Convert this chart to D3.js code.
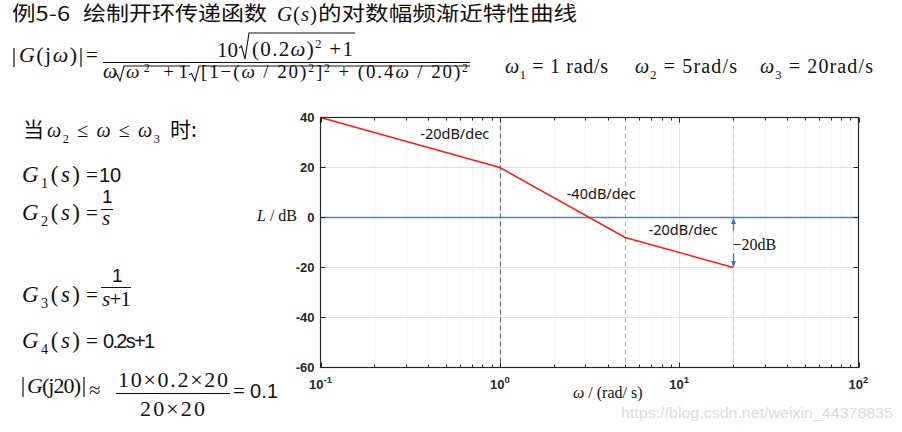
<!DOCTYPE html>
<html><head><meta charset="utf-8">
<script src="https://cdn.jsdelivr.net/npm/d3@7"></script>
<style>body{margin:0;background:#fff}svg{display:block}</style>
</head><body><svg id="c" width="902" height="432"></svg>
<script>
// ---- data ----
const decadeExps = [-1, 0, 1, 2];
const yTicks = [-60, -40, -20, 0, 20, 40];
const cornerFreqs = [1, 5, 20];
const asymFreq = [0.1, 1, 5, 20];
const asymDb = [40, 20, -8, -20];
const slopeText = ["-20dB/dec", "-40dB/dec", "-20dB/dec"];
const slopeAtFreq = [0.36, 2.36, 6.75];
const slopeAtDb = [31.4, 7.4, -7.1];
const gainFreq = 20, gainDb = -20, gainText = "\u221220dB";
const watermark = "https://blog.csdn.net/weixin_44378835";

const svg = d3.select("#c");
const SERIF = "'Liberation Serif','Times New Roman',serif";
const SANS = "'Liberation Sans',Arial,sans-serif";
const CJK = "'Noto Sans CJK SC','Noto Sans',sans-serif";
const INK = "#111";

// ---- chart ----
const x = d3.scaleLog().domain([0.1, 100]).range([320.5, 858.5]);
const y = d3.scaleLinear().domain([-60, 40]).range([367.5, 117.5]);
const [x0, x1] = x.range(), [yb, yt] = y.range();
const ch = svg.append("g");

const minors = [];
decadeExps.slice(0, -1).forEach(e => { for (let m = 2; m <= 9; m++) minors.push(m * Math.pow(10, e)); });
const majors = decadeExps.map(e => Math.pow(10, e));

ch.selectAll(".mg").data(minors).join("line")
  .attr("x1", d => Math.round(x(d)) + 0.5).attr("x2", d => Math.round(x(d)) + 0.5)
  .attr("y1", yt).attr("y2", yb).attr("stroke", "#e4e4e4").attr("stroke-dasharray", "1,2");
ch.selectAll(".gx").data(majors.slice(1, -1)).join("line")
  .attr("x1", d => Math.round(x(d)) + 0.5).attr("x2", d => Math.round(x(d)) + 0.5)
  .attr("y1", yt).attr("y2", yb).attr("stroke", "#e2e2e2");
ch.selectAll(".gy").data(yTicks.slice(1, -1)).join("line")
  .attr("x1", x0).attr("x2", x1).attr("y1", d => y(d)).attr("y2", d => y(d)).attr("stroke", "#e2e2e2");

const dashCol = ["#666", "#b0b0b0", "#cccccc"];
ch.selectAll(".cd").data(cornerFreqs).join("line")
  .attr("x1", d => Math.round(x(d)) + 0.5).attr("x2", d => Math.round(x(d)) + 0.5)
  .attr("y1", yt).attr("y2", yb).attr("stroke", (d, i) => dashCol[i]).attr("stroke-width", 1.1)
  .attr("stroke-dasharray", "5,3");

ch.append("line").attr("x1", x0).attr("x2", x1).attr("y1", y(0)).attr("y2", y(0))
  .attr("stroke", "#3f87c9").attr("stroke-width", 1.5);

ch.append("path").datum(asymFreq.map((f, i) => [f, asymDb[i]]))
  .attr("d", d3.line().x(d => x(d[0])).y(d => y(d[1])))
  .attr("fill", "none").attr("stroke", "#ff1a1a").attr("stroke-width", 1.5);

ch.append("rect").attr("x", x0).attr("y", yt).attr("width", x1 - x0).attr("height", yb - yt)
  .attr("fill", "none").attr("stroke", "#262626").attr("stroke-width", 1.2);

const tk = ch.append("g").attr("stroke", "#262626").attr("stroke-width", 1);
minors.forEach(v => {
  const px = Math.round(x(v)) + 0.5;
  tk.append("line").attr("x1", px).attr("x2", px).attr("y1", yb).attr("y2", yb - 3);
  tk.append("line").attr("x1", px).attr("x2", px).attr("y1", yt).attr("y2", yt + 3);
});
majors.forEach(v => {
  const px = Math.round(x(v)) + 0.5;
  tk.append("line").attr("x1", px).attr("x2", px).attr("y1", yb).attr("y2", yb - 5);
  tk.append("line").attr("x1", px).attr("x2", px).attr("y1", yt).attr("y2", yt + 5);
});
yTicks.forEach(v => {
  tk.append("line").attr("x1", x0).attr("x2", x0 + 5).attr("y1", y(v)).attr("y2", y(v));
  tk.append("line").attr("x1", x1).attr("x2", x1 - 5).attr("y1", y(v)).attr("y2", y(v));
});

ch.selectAll(".yl").data(yTicks).join("text")
  .attr("x", x0 - 6).attr("y", d => y(d) + 4.5).attr("text-anchor", "end")
  .attr("font-family", SANS).attr("font-weight", "bold").attr("font-size", 13).attr("fill", "#262626")
  .text(d => d);
const xl = ch.selectAll(".xl").data(decadeExps).join("text")
  .attr("x", d => x(Math.pow(10, d))).attr("y", 389).attr("text-anchor", "middle")
  .attr("font-family", SANS).attr("font-weight", "bold").attr("font-size", 13).attr("fill", "#262626");
xl.append("tspan").text("10");
xl.append("tspan").attr("dy", -6).attr("font-size", 9.5).text(d => d);

const ylab = ch.append("text").attr("x", 257).attr("y", 221).attr("font-family", SERIF).attr("font-size", 16).attr("fill", INK);
ylab.append("tspan").attr("font-style", "italic").text("L");
ylab.append("tspan").text(" / dB");
const xlab = ch.append("text").attr("x", 573).attr("y", 398).attr("font-family", SERIF).attr("font-size", 16).attr("fill", INK);
xlab.append("tspan").attr("font-style", "italic").text("\u03c9");
xlab.append("tspan").text(" / (rad/ s)");

ch.selectAll(".sl").data(slopeText).join("text")
  .attr("x", (d, i) => x(slopeAtFreq[i])).attr("y", (d, i) => y(slopeAtDb[i]))
  .attr("font-family", "'Noto Sans','Open Sans',sans-serif").attr("font-size", 14.5).attr("fill", "#111")
  .text(d => d);

const defs = svg.append("defs");
defs.append("marker").attr("id", "ah").attr("viewBox", "0 0 10 10").attr("refX", 9).attr("refY", 5)
  .attr("markerWidth", 5).attr("markerHeight", 6).attr("orient", "auto-start-reverse")
  .append("path").attr("d", "M0,1 L10,5 L0,9 Z").attr("fill", "#3a72c8");
const gx = Math.round(x(gainFreq)) + 0.5;
ch.append("line").attr("x1", gx).attr("x2", gx).attr("y1", y(0) + 13).attr("y2", y(0) + 1)
  .attr("stroke", "#3a72c8").attr("stroke-width", 1.3).attr("marker-end", "url(#ah)");
ch.append("line").attr("x1", gx).attr("x2", gx).attr("y1", y(gainDb) - 14).attr("y2", y(gainDb) - 1)
  .attr("stroke", "#3a72c8").attr("stroke-width", 1.3).attr("marker-end", "url(#ah)");
ch.append("text").attr("x", gx - 1).attr("y", (y(0) + y(gainDb)) / 2 + 7).attr("font-family", SERIF)
  .attr("font-size", 16).attr("fill", INK).text(gainText);

svg.append("text").attr("x", 621).attr("y", 418).attr("font-family", SANS).attr("font-size", 15)
  .attr("fill", "#dadada").attr("textLength", 272).attr("lengthAdjust", "spacingAndGlyphs").text(watermark);

// ---- math text helpers ----
const tg = svg.append("g").attr("fill", INK);
function mt(xp, yp, parts, size, len, adj, supRaise) {
  const t = tg.append("text").attr("x", xp).attr("y", yp).attr("font-size", size).attr("font-family", SERIF);
  if (len) t.attr("textLength", len).attr("lengthAdjust", adj || "spacing");
  let off = 0;
  parts.forEach(p => {
    const [s, k] = p;
    const sp = t.append("tspan").text(s);
    let target = 0;
    if (k === "sub") { target = size * 0.28; sp.attr("font-size", size * 0.62); }
    else if (k === "sup") { target = -size * (supRaise || 0.4); sp.attr("font-size", size * 0.62); }
    if (target !== off) { sp.attr("dy", target - off); off = target; }
    if (k === "i") sp.attr("font-style", "italic");
    if (k === "sans") sp.attr("font-family", SANS);
    if (k === "cjk") sp.attr("font-family", CJK);
  });
  return t;
}
function hline(a, b, yy, w) {
  tg.append("line").attr("x1", a).attr("x2", b).attr("y1", yy).attr("y2", yy).attr("stroke", INK).attr("stroke-width", w || 1);
}
function vline(xx, a, b) {
  tg.append("line").attr("x1", xx).attr("x2", xx).attr("y1", a).attr("y2", b).attr("stroke", INK).attr("stroke-width", 1.2);
}
function radical(xs, xe, top, bot) {
  const h = bot - top;
  tg.append("path").attr("d",
    `M${xs},${bot - h * 0.42} L${xs + 2.5},${bot - h * 0.5} L${xs + 6},${bot} L${xs + 10},${top} L${xe},${top}`)
    .attr("fill", "none").attr("stroke", INK).attr("stroke-width", 1.1);
}

// title
mt(12, 21, [["例5-6", "cjk"]], 20, 58, "spacingAndGlyphs");
mt(83, 21, [["绘制开环传递函数", "cjk"]], 20, 184, "spacingAndGlyphs");
mt(277, 21, [["G", "i"], ["(", ""], ["s", "i"], [")", ""]], 21, 40);
mt(318, 21, [["的对数幅频渐近特性曲线", "cjk"]], 20, 259, "spacingAndGlyphs");

// |G(jω)| formula
vline(14, 48, 67); vline(81, 48, 67);
mt(19, 62, [["G", "i"], ["(j", ""], ["\u03c9", "i"], [")", ""]], 22, 58);
mt(86, 62, [["=", ""]], 21);
hline(103, 470, 62.5);
mt(217, 57, [["10", ""]], 21, 21);
radical(239, 355, 33, 59);
mt(252, 56, [["(0.2", ""], ["\u03c9", "i"], [")", ""], ["2", "sup"], [" +1", ""]], 21, 101);
mt(103, 78, [["\u03c9", "i"]], 20);
radical(114, 190, 66, 81);
mt(126, 78, [["\u03c9", "i"], ["2", "sup"], [" +1", ""]], 19, 62, "spacing", 0.33);
radical(189, 470, 66, 81);
mt(201, 78, [["[1\u2212(", ""], ["\u03c9", "i"], [" / 20)", ""], ["2", "sup"], ["]", ""], ["2", "sup"],
  [" + (0.4", ""], ["\u03c9", "i"], [" / 20)", ""], ["2", "sup"]], 19, 267, "spacing", 0.33);

// corner frequencies
mt(505, 73, [["\u03c9", "i"], ["1", "sub"], [" = 1 rad/s", ""]], 20, 103);
mt(635, 73, [["\u03c9", "i"], ["2", "sub"], [" = 5rad/s", ""]], 20, 102);
mt(760, 73, [["\u03c9", "i"], ["3", "sub"], [" = 20rad/s", ""]], 20, 113);

// left column
mt(23, 137, [["当", "cjk"]], 21);
mt(47, 137, [["\u03c9", "i"], ["2", "sub"], [" \u2264 ", ""], ["\u03c9", "i"], [" \u2264 ", ""], ["\u03c9", "i"], ["3", "sub"]], 20, 113);
mt(170, 137, [["时:", "cjk"]], 21);

function gLabel(yy, idx) {
  mt(22, yy, [["G", "i"], [idx, "sub"], ["(", ""], ["s", "i"], [")", ""]], 23, 58);
  mt(86, yy, [["=", ""]], 21);
}
gLabel(182, "1");
mt(99, 182, [["10", "sans"]], 20);

gLabel(220, "2");
mt(102, 203, [["1", "sans"]], 19);
hline(101, 113, 209.5);
mt(102, 225, [["s", "i"]], 21);

gLabel(302, "3");
mt(112, 282, [["1", "sans"]], 19);
hline(101, 131, 287.5);
mt(102, 306, [["s", "i"], ["+1", ""]], 21, 29);

gLabel(348, "4");
mt(103, 348, [["0.2s+1", "sans"]], 20, 52);

vline(23, 377, 397); vline(84, 377, 397);
mt(27, 393, [["G", "i"], ["(j20)", ""]], 22, 54);
mt(89, 397, [["\u2248", ""]], 21);
mt(118, 387, [["10\u00d70.2\u00d720", ""]], 22, 110);
hline(116, 230, 393.5);
mt(140, 416, [["20\u00d720", ""]], 22, 65);
mt(233, 398, [["=", ""]], 21);
mt(250, 398, [["0.1", "sans"]], 20, 28);
</script></body></html>
